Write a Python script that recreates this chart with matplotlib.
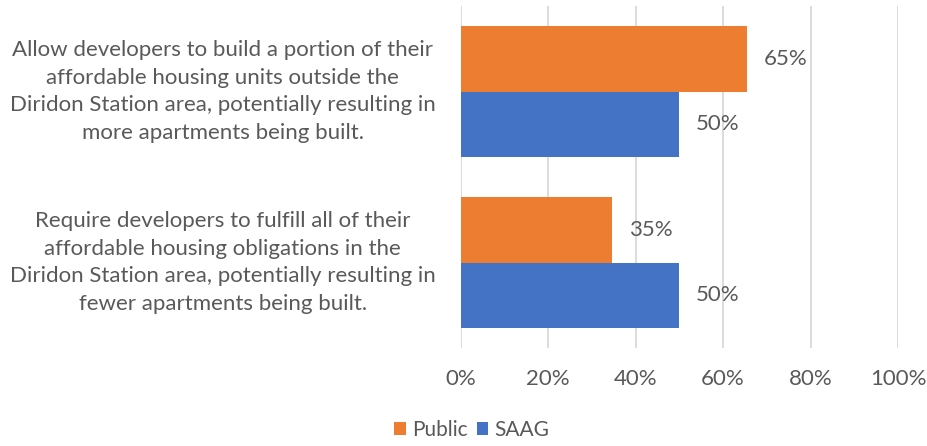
import matplotlib
matplotlib.use("Agg")
import matplotlib.pyplot as plt
import numpy as np
from matplotlib.ticker import PercentFormatter

plt.rcParams['font.family'] = ['Lato', 'DejaVu Sans']

categories = [
    "Allow developers to build a portion of their\naffordable housing units outside the\nDiridon Station area, potentially resulting in\nmore apartments being built.",
    "Require developers to fulfill all of their\naffordable housing obligations in the\nDiridon Station area, potentially resulting in\nfewer apartments being built.",
]
series_names = ["Public", "SAAG"]
public_vals = [0.654, 0.346]
saag_vals = [0.50, 0.50]
xticks = [0, 0.2, 0.4, 0.6, 0.8, 1.0]

colors = {"Public": "#ED7D31", "SAAG": "#4472C4"}
text_color = "#595959"
fs = 16

fig = plt.figure(figsize=(9.28, 4.46), dpi=100)
ax = fig.add_axes([460.7/928, 1 - 348/446, (898 - 460.7)/928, (348 - 6)/446])

y = np.arange(len(categories))
h = 0.383
b1 = ax.barh(y - h/2, public_vals, height=h, color=colors["Public"], label="Public")
b2 = ax.barh(y + h/2, saag_vals, height=h, color=colors["SAAG"], label="SAAG")

for bars in (b1, b2):
    ax.bar_label(bars, labels=[f"{v*100:.0f}%" for v in bars.datavalues],
                 padding=12, fontsize=fs, color=text_color)

ax.set_xlim(0, 1.0)
ax.set_ylim(len(categories) - 0.5, -0.5)
ax.set_xticks(xticks)
ax.xaxis.set_major_formatter(PercentFormatter(1.0, decimals=0))
ax.set_yticks(y)
ax.set_yticklabels(categories, fontsize=fs, color=text_color, ha='right', va='center',
                   multialignment='center', linespacing=1.48)
ax.tick_params(axis='y', length=0, pad=18)
ax.tick_params(axis='x', length=0, pad=15, labelsize=fs, labelcolor=text_color)
ax.grid(axis='x', color='#D9D9D9', linewidth=1.3)
ax.set_axisbelow(True)
for s in ax.spines.values():
    s.set_visible(False)

fig.legend(handles=[b1, b2], labels=series_names, loc='center',
           bbox_to_anchor=(472/928, 1 - 430/446), ncol=2, frameon=False,
           fontsize=15, labelcolor=text_color, handlelength=0.55, handleheight=0.55,
           handletextpad=0.3, columnspacing=0.45)

fig.savefig("out.png", dpi=100)
